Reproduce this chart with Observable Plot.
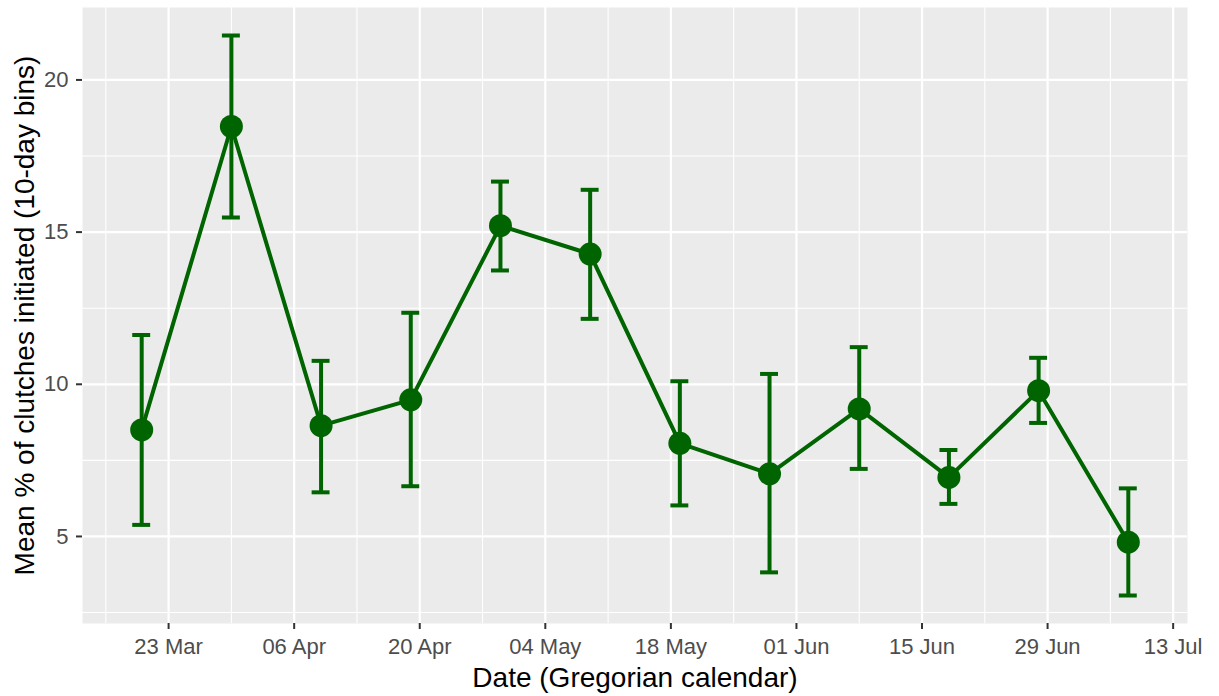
<!DOCTYPE html>
<html>
<head>
<meta charset="utf-8">
<script src="https://cdn.jsdelivr.net/npm/d3@7"></script>
<script src="https://cdn.jsdelivr.net/npm/@observablehq/plot@0.6"></script>
<style>
  html, body { margin: 0; padding: 0; background: #ffffff; }
  #chart svg { display: block; }
</style>
</head>
<body>
<div id="chart"></div>
<script>
// 10-day bins: bin date, mean % of clutches initiated, and error-bar limits
const binDates = ["2019-03-20", "2019-03-30", "2019-04-09", "2019-04-19", "2019-04-29", "2019-05-09",
                  "2019-05-19", "2019-05-29", "2019-06-08", "2019-06-18", "2019-06-28", "2019-07-08"];
const meanPct  = [8.50, 18.47, 8.64, 9.49, 15.21, 14.28, 8.06, 7.06, 9.19, 6.94, 9.79, 4.81];
const lowerPct = [5.38, 15.48, 6.45, 6.65, 13.74, 12.15, 6.02, 3.82, 7.22, 6.07, 8.73, 3.06];
const upperPct = [11.62, 21.46, 10.77, 12.35, 16.66, 16.39, 10.10, 10.34, 11.22, 7.84, 10.87, 6.58];

// Axis breaks
const xTickDates  = ["2019-03-23", "2019-04-06", "2019-04-20", "2019-05-04", "2019-05-18",
                     "2019-06-01", "2019-06-15", "2019-06-29", "2019-07-13"];
const xMinorDates = ["2019-03-16", "2019-03-30", "2019-04-13", "2019-04-27", "2019-05-11",
                     "2019-05-25", "2019-06-08", "2019-06-22", "2019-07-06"];
const yTicks      = [5, 10, 15, 20];
const yMinorTicks = [2.5, 7.5, 12.5, 17.5];

const xLabel = "Date (Gregorian calendar)";
const yLabel = "Mean % of clutches initiated (10-day bins)";

const DAY = 24 * 3600 * 1000;
const parse = d3.utcParse("%Y-%m-%d");

const rows = binDates.map((d, i) => ({
  date: parse(d),
  mean: meanPct[i],
  lo: lowerPct[i],
  hi: upperPct[i]
}));

const xTicks = xTickDates.map(parse);
const xMinor = xMinorDates.map(parse);

// Error-bar caps span one day either side of the bin date
const capHalf = DAY;

// Panel limits: data extent (including caps) padded by 5% on each side
const xMin = d3.min(rows, r => +r.date) - capHalf;
const xMax = d3.max(rows, r => +r.date) + capHalf;
const xPad = (xMax - xMin) * 0.05;
const yMin = d3.min(rows, r => r.lo);
const yMax = d3.max(rows, r => r.hi);
const yPad = (yMax - yMin) * 0.05;

const green = "#006400";
const lineW = 4;
const fontFamily = "'Liberation Sans', Arial, Helvetica, sans-serif";

const chart = Plot.plot({
  width: 1219,
  height: 696,
  marginLeft: 82,
  marginRight: 32,
  marginTop: 7,
  marginBottom: 73,
  style: { fontFamily, background: "#ffffff" },
  x: { type: "utc", domain: [new Date(xMin - xPad), new Date(xMax + xPad)] },
  y: { domain: [yMin - yPad, yMax + yPad] },
  marks: [
    Plot.frame({ fill: "#ebebeb", stroke: null }),
    // minor grid
    Plot.ruleY(yMinorTicks, { stroke: "#ffffff", strokeWidth: 1.1 }),
    Plot.ruleX(xMinor, { stroke: "#ffffff", strokeWidth: 1.1 }),
    // major grid
    Plot.ruleY(yTicks, { stroke: "#ffffff", strokeWidth: 2.2 }),
    Plot.ruleX(xTicks, { stroke: "#ffffff", strokeWidth: 2.2 }),
    // axes
    Plot.axisX(xTicks, {
      tickFormat: d3.utcFormat("%d %b"),
      tickSize: 6, tickPadding: 9,
      fontSize: 22, fill: "#4d4d4d", stroke: "#333333", strokeWidth: 2,
      label: null
    }),
    Plot.axisY(yTicks, {
      tickSize: 6, tickPadding: 8,
      fontSize: 22, fill: "#4d4d4d", stroke: "#333333", strokeWidth: 2,
      label: null
    }),
    // series
    Plot.line(rows, { x: "date", y: "mean", stroke: green, strokeWidth: lineW }),
    Plot.ruleX(rows, { x: "date", y1: "lo", y2: "hi", stroke: green, strokeWidth: lineW }),
    Plot.ruleY(rows, { y: "hi", x1: r => new Date(+r.date - capHalf), x2: r => new Date(+r.date + capHalf), stroke: green, strokeWidth: lineW }),
    Plot.ruleY(rows, { y: "lo", x1: r => new Date(+r.date - capHalf), x2: r => new Date(+r.date + capHalf), stroke: green, strokeWidth: lineW }),
    Plot.dot(rows, { x: "date", y: "mean", r: 11.5, fill: green, stroke: null }),
    // axis titles
    Plot.text([xLabel], {
      frameAnchor: "bottom", lineAnchor: "bottom", textAnchor: "middle", dy: 63.5,
      fontSize: 28, fill: "#000000"
    }),
    Plot.text([yLabel], {
      frameAnchor: "left", lineAnchor: "bottom", textAnchor: "middle", rotate: -90, dx: -49,
      fontSize: 28, fill: "#000000"
    })
  ]
});

document.getElementById("chart").appendChild(chart);
</script>
</body>
</html>
